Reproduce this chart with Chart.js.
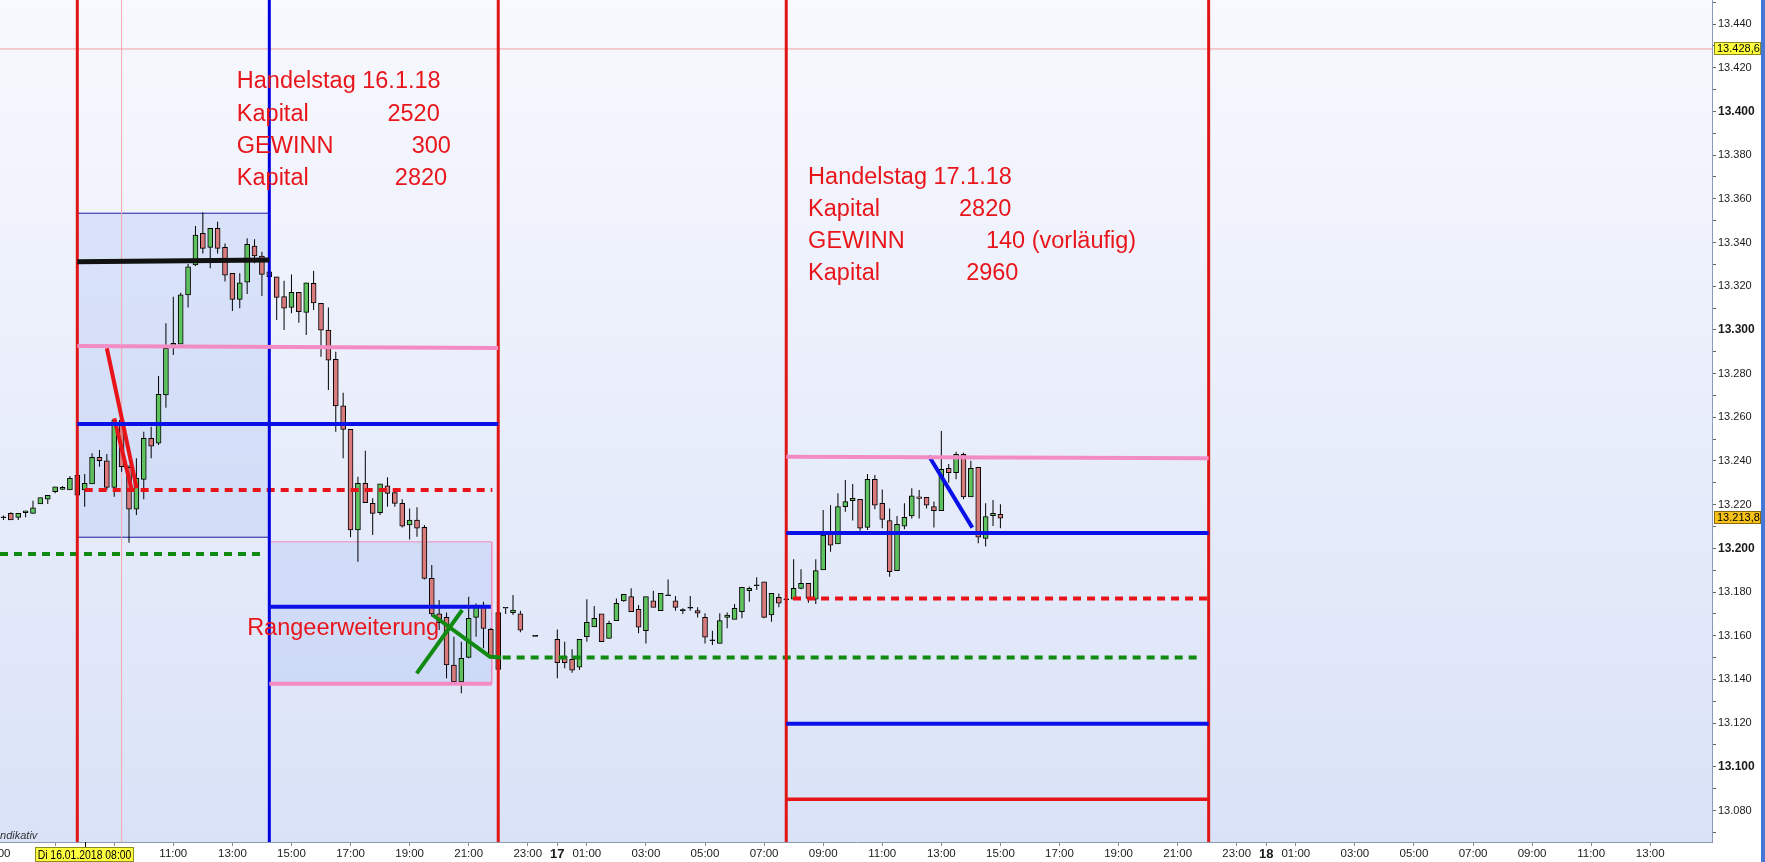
<!DOCTYPE html>
<html lang="de">
<head>
<meta charset="utf-8">
<title>DAX 15 Min - Handelstag 16.1.18 / 17.1.18</title>
<script src="https://cdn.jsdelivr.net/npm/chart.js@4.4.1/dist/chart.umd.min.js"></script>
<style>
  html, body { margin: 0; padding: 0; background: #fff; overflow: hidden; }
  canvas { display: block; }
</style>
</head>
<body>
<canvas id="myChart" width="1765" height="862"></canvas>
<script>
// 15-Minuten-Kerzen, Zeit in Stunden ab Di 16.01.2018 00:00
const times = [
  5.25, 5.5, 5.75, 6, 6.25, 6.5, 6.75, 7, 7.25, 7.5,
  7.75, 8, 8.25, 8.5, 8.75, 9, 9.25, 9.5, 9.75, 10,
  10.25, 10.5, 10.75, 11, 11.25, 11.5, 11.75, 12, 12.25, 12.5,
  12.75, 13, 13.25, 13.5, 13.75, 14, 14.25, 14.5, 14.75, 15,
  15.25, 15.5, 15.75, 16, 16.25, 16.5, 16.75, 17, 17.25, 17.5,
  17.75, 18, 18.25, 18.5, 18.75, 19, 19.25, 19.5, 19.75, 20,
  20.25, 20.5, 20.75, 21, 21.25, 21.5, 21.75, 22, 22.25, 22.5,
  22.75, 23.25, 24, 24.25, 24.5, 24.75, 25, 25.25, 25.5, 25.75,
  26, 26.25, 26.5, 26.75, 27, 27.25, 27.5, 27.75, 28, 28.25,
  28.5, 28.75, 29, 29.25, 29.5, 29.75, 30, 30.25, 30.5, 30.75,
  31, 31.25, 31.5, 31.75, 32, 32.25, 32.5, 32.75, 33, 33.25,
  33.5, 33.75, 34, 34.25, 34.5, 34.75, 35, 35.25, 35.5, 35.75,
  36, 36.25, 36.5, 36.75, 37, 37.25, 37.5, 37.75, 38, 38.25,
  38.5, 38.75, 39
];
const opens = [
  13214, 13216, 13214.2, 13216.3, 13216, 13220.3, 13222.5, 13225.9, 13227.0, 13226.7,
  13233.4, 13226.7, 13229.5, 13241.7, 13240.1, 13227.9, 13258.7, 13237.1, 13217.9, 13231.6,
  13250.4, 13248.1, 13270.2, 13292.9, 13293.5, 13316.0, 13329.7, 13344.2, 13337.8, 13346.5,
  13337.8, 13325.9, 13314.0, 13321.8, 13338.4, 13333.8, 13326.6, 13324.3, 13315.2, 13310.3,
  13317.2, 13308.0, 13321.3, 13312.2, 13299.9, 13286.5, 13265.2, 13254.5, 13208.4, 13229.8,
  13220.6, 13216.3, 13228.6, 13225.5, 13220.6, 13210.7, 13213.0, 13209.6, 13186.3, 13170.0,
  13168.4, 13146.6, 13139.0, 13150.1, 13168.4, 13173.0, 13162.9, 13170.6, 13172.6, 13170.6,
  13170.0, 13159.7, 13158.4, 13150.7, 13149.2, 13145.6, 13159.6, 13164.1, 13170.0, 13158.8,
  13166.9, 13176.0, 13177.9, 13172.1, 13162.3, 13176.0, 13171.5, 13178.3, 13176.0, 13171.5,
  13172.6, 13171.5, 13168.4, 13157.7, 13156.5, 13168.4, 13167.5, 13171.0, 13180.6, 13182.9,
  13184.7, 13169.5, 13177.6, 13176.4, 13176.7, 13181.7, 13184.0, 13176.7, 13190.1, 13206.6,
  13202.0, 13219.1, 13221.8, 13222.5, 13209.6, 13231.6, 13220.6, 13212.7, 13189.8, 13210.2,
  13214.8, 13223.6, 13223.4, 13219.1, 13217.2, 13236.6, 13234.6, 13243.0, 13223.6, 13237.1,
  13204.6, 13215.0, 13215.6
];
const highs = [
  13215, 13216.5, 13216, 13217.2, 13221.8, 13223.2, 13224.3, 13228.2, 13228.5, 13233.1,
  13234, 13234.0, 13243.5, 13245.0, 13243.2, 13259.0, 13259.5, 13238.0, 13241.2, 13253.4,
  13255.7, 13278.9, 13303.0, 13315.2, 13317.0, 13330.2, 13347.5, 13353.8, 13346.5, 13349.5,
  13339.6, 13325.9, 13325.9, 13341.9, 13341.5, 13335.8, 13327.0, 13324.3, 13322.5, 13325.4,
  13317.2, 13321.6, 13327.1, 13312.2, 13310.3, 13290.0, 13271.2, 13254.5, 13232.8, 13244.7,
  13222.9, 13229.5, 13232.5, 13226.7, 13222.5, 13218.3, 13218.8, 13210.7, 13192.4, 13176.4,
  13170.6, 13159.6, 13157.3, 13177.9, 13174.8, 13175.6, 13163.5, 13171.0, 13172.6, 13178.7,
  13171.5, 13159.8, 13162.9, 13157.3, 13153.8, 13158.4, 13176.7, 13173.6, 13170.0, 13166.9,
  13177.1, 13179.0, 13181.7, 13174.1, 13177.9, 13180.6, 13179.4, 13185.8, 13178.2, 13172.6,
  13178.2, 13173.0, 13170.3, 13162.3, 13170.3, 13170.6, 13174.5, 13182.2, 13182.5, 13186.8,
  13184.7, 13179.4, 13179.4, 13176.6, 13195.0, 13190.4, 13184.0, 13195.0, 13217.6, 13219.8,
  13225.2, 13231.3, 13229.5, 13222.5, 13234.0, 13233.6, 13227.0, 13218.3, 13214.8, 13220.6,
  13227.5, 13226.7, 13223.4, 13221.4, 13253.7, 13238.6, 13244.2, 13243.8, 13240.1, 13237.1,
  13220.6, 13222.1, 13220.2
];
const lows = [
  13213, 13213, 13213, 13214.2, 13216, 13220.3, 13220.3, 13225.2, 13226.8, 13226.7,
  13224, 13219.0, 13229.5, 13237.4, 13226.7, 13223.6, 13235.1, 13202.6, 13215.3, 13222.5,
  13241.2, 13247.3, 13264.4, 13288.5, 13293.5, 13310.3, 13329.2, 13335.0, 13328.2, 13335.0,
  13322.1, 13308.6, 13309.9, 13316.4, 13330.5, 13315.5, 13322.0, 13304.5, 13299.9, 13307.6,
  13303.3, 13297.7, 13309.1, 13287.7, 13272.5, 13253.4, 13241.2, 13205.1, 13193.9, 13220.9,
  13206.1, 13215.3, 13219.0, 13219.0, 13209.6, 13204.1, 13205.3, 13185.8, 13168.8, 13162.6,
  13140.5, 13139.0, 13133.7, 13149.7, 13159.6, 13154.3, 13150.0, 13144.0, 13170.0, 13169.5,
  13161.6, 13159.6, 13140.5, 13145.1, 13143.1, 13144.3, 13157.3, 13164.1, 13157.3, 13158.8,
  13166.9, 13175.6, 13171.0, 13161.1, 13156.5, 13173.0, 13171.5, 13178.3, 13171.5, 13170.0,
  13171.5, 13168.4, 13156.5, 13155.8, 13156.5, 13163.4, 13167.5, 13168.0, 13175.6, 13181.0,
  13168.0, 13166.4, 13173.0, 13176.2, 13176.7, 13181.3, 13175.1, 13174.5, 13190.1, 13198.5,
  13202.0, 13216.8, 13212.7, 13208.1, 13208.4, 13217.9, 13209.2, 13187.0, 13189.8, 13208.7,
  13213.7, 13213.7, 13218.3, 13209.6, 13217.2, 13230.0, 13231.6, 13222.5, 13223.6, 13202.3,
  13200.8, 13210.2, 13209.2
];
const closes = [
  13214, 13213, 13216, 13217.2, 13218.6, 13223.2, 13224.3, 13228.2, 13227.9, 13232.1,
  13224.3, 13229.8, 13241.7, 13240.1, 13227.9, 13258.7, 13237.4, 13217.9, 13232.1, 13250.4,
  13246.8, 13270.5, 13291.6, 13293.9, 13316.0, 13328.9, 13343.4, 13337.3, 13346.5, 13337.3,
  13325.1, 13314.0, 13321.6, 13339.2, 13333.9, 13325.4, 13324.4, 13314.9, 13309.9, 13317.2,
  13308.3, 13321.6, 13312.4, 13299.9, 13286.2, 13265.2, 13254.5, 13208.4, 13229.8, 13220.9,
  13216.0, 13229.5, 13225.2, 13220.6, 13210.2, 13213.0, 13209.2, 13186.3, 13170.0, 13166.0,
  13146.6, 13139.0, 13149.7, 13168.0, 13173.0, 13163.4, 13150.4, 13144.6, 13172.6, 13171.8,
  13162.6, 13159.7, 13147.7, 13147.7, 13144.3, 13158.4, 13166.2, 13168.0, 13157.3, 13165.7,
  13174.9, 13179.0, 13171.0, 13163.9, 13177.9, 13173.0, 13179.4, 13178.3, 13173.0, 13171.5,
  13172.6, 13170.3, 13159.3, 13157.7, 13166.9, 13169.5, 13172.6, 13182.2, 13181.7, 13182.9,
  13168.4, 13179.4, 13174.9, 13176.4, 13181.7, 13184.0, 13177.1, 13189.8, 13206.1, 13201.5,
  13219.1, 13221.4, 13222.9, 13209.2, 13231.6, 13219.8, 13213.3, 13189.3, 13211.0, 13214.2,
  13224.1, 13222.9, 13219.8, 13217.2, 13236.2, 13234.6, 13243.0, 13223.6, 13236.6, 13205.1,
  13214.5, 13216.0, 13213.8
];

// Achsen
const xMin = 5.133, xMax = 63.09;
const yMin = 13065.6, yMax = 13451.0;
const xTickValues = [5, 7, 9, 11, 13, 15, 17, 19, 21, 23, 24, 25, 27, 29, 31, 33, 35, 37, 39, 41, 43, 45, 47, 48, 49, 51, 53, 55, 57, 59, 61];
const yTickValues = [];
for (let v = 13070; v <= 13450; v += 10) yTickValues.push(v);

// Markierungen (Zeit, Kurs)
const redVerticals = [7.75, 22.0, 31.75, 46.05];
const blueVerticals = [14.25];
const blackLine16 = [[7.75, 13331.2], [14.25, 13332.0]];
const pinkLine16 = [[7.75, 13292.6], [22.0, 13291.7]];
const blueLine16 = [[7.75, 13256.9], [22.0, 13256.9]];
const redDash16 = [[8.0, 13226.7], [21.8, 13226.7]];
const greenDash16 = [[5.133, 13197.4], [14.0, 13197.4]];
const blueLine16b = [[14.25, 13173.3], [21.75, 13173.3]];
const pinkLine16b = [[14.25, 13138.0], [21.78, 13138.0]];
const greenDash17 = [[22.15, 13150.0], [45.75, 13150.0]];
const redStroke16a = [[8.75, 13291.6], [9.76, 13227.5]];
const redStroke16b = [[9.0, 13259.5], [9.58, 13227.5]];
const greenCrossA = [[19.24, 13142.8], [20.78, 13171.8]];
const greenCrossB = [[19.78, 13169.5], [21.72, 13150.4], [22.1, 13150.0]];
const pinkLine17 = [[31.75, 13241.9], [46.05, 13241.2]];
const blueLine17 = [[31.75, 13207.0], [46.05, 13207.0]];
const redDash17 = [[31.98, 13177.1], [46.05, 13177.1]];
const blueLine17b = [[31.75, 13119.7], [46.05, 13119.7]];
const redLine17 = [[31.75, 13085.2], [46.05, 13085.2]];
const blueStroke17 = [[36.58, 13242.3], [38.05, 13209.5]];
const rangeBox16 = [7.75, 14.25, 13205.1, 13353.4];
const rangeBox16b = [14.25, 21.78, 13138.0, 13203.0];

const crossTime = 9.25;
const crossPrice = 13428.6;
const lastPrice = 13213.8;
const crossLabel = 'Di 16.01.2018 08:00';

const notes16 = ['Handelstag 16.1.18', 'Kapital', 'GEWINN', 'Kapital'];
const values16 = ['', '2520', '300', '2820'];
const notes17 = ['Handelstag 17.1.18', 'Kapital', 'GEWINN', 'Kapital'];
const values17 = ['', '2820', '140 (vorläufig)', '2960'];
const rangeNote = 'Rangeerweiterung';

function fmtDe(v, dec) {
  const s = v.toFixed(dec);
  const parts = s.split('.');
  const int = parts[0].replace(/\B(?=(\d{3})+(?!\d))/g, '.');
  return parts.length > 1 ? int + ',' + parts[1] : int;
}

function lineSet(points, color, width, dash, order) {
  return {
    type: 'line',
    data: points.map(p => ({ x: p[0], y: p[1] })),
    borderColor: color,
    borderWidth: width,
    borderDash: dash || [],
    borderCapStyle: 'butt',
    pointRadius: 0,
    fill: false,
    tension: 0,
    order: order || 1
  };
}
function boxFill(b, color) {
  return {
    type: 'line',
    data: [{ x: b[0], y: b[3] }, { x: b[1], y: b[3] }],
    fill: { value: b[2] },
    backgroundColor: color,
    borderWidth: 0,
    pointRadius: 0,
    order: 9
  };
}
function boxEdge(b, color) {
  return lineSet([[b[0], b[2]], [b[0], b[3]], [b[1], b[3]], [b[1], b[2]], [b[0], b[2]]], color, 1, null, 8);
}

const upColor = '#5ec35e';
const downColor = '#d97a7c';
const bodyColors = times.map((t, i) => closes[i] > opens[i] ? upColor : (closes[i] < opens[i] ? downColor : '#000'));

const RED = '#e8141a', BLUE = '#0a10e8', PINK = '#f48cc4', GREEN = '#108a10';
const datasets = [
  boxFill(rangeBox16, 'rgba(165,190,242,0.30)'),
  boxFill(rangeBox16b, 'rgba(165,190,242,0.30)'),
  boxEdge(rangeBox16, '#1e1e9c'),
  boxEdge(rangeBox16b, '#f08cc0'),
  lineSet([[xMin, crossPrice], [xMax, crossPrice]], '#f2a0a0', 1, null, 7),
  lineSet([[crossTime, yMin], [crossTime, yMax]], '#f2a8a8', 1, null, 7),
  {
    type: 'bar',
    data: times.map((t, i) => ({ x: t, y: [lows[i], highs[i]] })),
    backgroundColor: '#000',
    borderWidth: 0,
    barThickness: 1,
    inflateAmount: 0,
    grouped: false,
    order: 5
  },
  {
    type: 'bar',
    data: times.map((t, i) => ({ x: t, y: [opens[i], closes[i]] })),
    backgroundColor: bodyColors,
    borderColor: '#000',
    borderWidth: 1,
    borderSkipped: false,
    barThickness: 5,
    minBarLength: 1,
    grouped: false,
    order: 4
  },
  lineSet(greenDash16, GREEN, 4, [8, 6], 2),
  lineSet(greenDash17, GREEN, 4, [8, 6], 2),
  lineSet(redDash16, RED, 4, [8, 6], 2),
  lineSet(redDash17, RED, 4, [8, 6], 2),
  lineSet(pinkLine16, PINK, 4),
  lineSet(pinkLine16b, PINK, 4),
  lineSet(pinkLine17, PINK, 4),
  lineSet(blueLine16, BLUE, 4),
  lineSet(blueLine16b, BLUE, 4),
  lineSet(blueLine17, BLUE, 4),
  lineSet(blueLine17b, BLUE, 4),
  lineSet(redLine17, RED, 3.5),
  lineSet(blackLine16, '#111', 5),
  lineSet(redStroke16a, RED, 4),
  lineSet(redStroke16b, RED, 4),
  lineSet(greenCrossA, GREEN, 4),
  lineSet(greenCrossB, GREEN, 4),
  lineSet(blueStroke17, BLUE, 4)
];
redVerticals.forEach(t => datasets.push(lineSet([[t, yMin], [t, yMax]], '#e01515', 3, null, 1)));
blueVerticals.forEach(t => datasets.push(lineSet([[t, yMin], [t, yMax]], '#0000dd', 3, null, 1)));

const FONT = '"Liberation Sans", Arial, sans-serif';

// Hintergrund
const bgPlugin = {
  id: 'bg',
  beforeDraw(chart) {
    const { ctx, chartArea: a, width, height } = chart;
    ctx.save();
    ctx.fillStyle = '#fff';
    ctx.fillRect(0, 0, width, height);
    const g = ctx.createLinearGradient(0, a.top, 0, a.bottom);
    g.addColorStop(0, '#f8f9fe');
    g.addColorStop(1, '#d9e2f7');
    ctx.fillStyle = g;
    ctx.fillRect(a.left, a.top, a.right - a.left, a.bottom - a.top);
    ctx.fillStyle = '#4677d4';
    ctx.fillRect(width - 4, 0, 4, height);
    ctx.fillStyle = '#333';
    ctx.font = 'italic 11px ' + FONT;
    ctx.textBaseline = 'alphabetic';
    ctx.fillText('Indikativ', -3, a.bottom - 3);
    ctx.restore();
  }
};

// Texte im Chart
const notePlugin = {
  id: 'notes',
  afterDatasetsDraw(chart) {
    const { ctx } = chart;
    const x = chart.scales.x, y = chart.scales.y;
    ctx.save();
    ctx.fillStyle = '#e8161b';
    ctx.font = '23.5px ' + FONT;
    ctx.textBaseline = 'alphabetic';
    const base16 = [13410.6, 13395.7, 13381.1, 13366.5];
    const val16 = [0, 18.25, 19.07, 18.5];
    notes16.forEach((s, i) => {
      ctx.fillText(s, x.getPixelForValue(13.15), y.getPixelForValue(base16[i]));
      if (values16[i]) ctx.fillText(values16[i], x.getPixelForValue(val16[i]), y.getPixelForValue(base16[i]));
    });
    const base17 = [13366.8, 13352.1, 13337.5, 13322.9];
    const val17 = [0, 37.6, 38.51, 37.84];
    notes17.forEach((s, i) => {
      ctx.fillText(s, x.getPixelForValue(32.49), y.getPixelForValue(base17[i]));
      if (values17[i]) ctx.fillText(values17[i], x.getPixelForValue(val17[i]), y.getPixelForValue(base17[i]));
    });
    ctx.fillText(rangeNote, x.getPixelForValue(13.5), y.getPixelForValue(13160.3));
    ctx.restore();
  },
  afterDraw(chart) {
    const { ctx, chartArea: a } = chart;
    const x = chart.scales.x, y = chart.scales.y;
    ctx.save();
    // Kursmarken an der Preisachse
    const tag = (val, fill, stroke) => {
      const py = Math.round(y.getPixelForValue(val));
      ctx.fillStyle = fill;
      ctx.fillRect(a.right + 2, py - 7, 47, 13);
      ctx.strokeStyle = stroke;
      ctx.lineWidth = 1;
      ctx.strokeRect(a.right + 2.5, py - 6.5, 46, 12);
      ctx.fillStyle = '#000';
      ctx.font = '11px ' + FONT;
      ctx.textBaseline = 'middle';
      ctx.textAlign = 'left';
      ctx.fillText(fmtDe(val, 1), a.right + 5, py);
    };
    tag(crossPrice, '#ffff40', '#8a8a20');
    tag(lastPrice, '#f5c21c', '#8a6a10');
    // Zeitmarke
    const px = x.getPixelForValue(8);
    const bx = Math.round(px - 49.5);
    ctx.fillStyle = '#ffff40';
    ctx.fillRect(bx, a.bottom + 5, 99, 15);
    ctx.strokeStyle = '#8a8a20';
    ctx.strokeRect(bx + 0.5, a.bottom + 5.5, 98, 14);
    ctx.fillStyle = '#000';
    ctx.save();
    ctx.translate(bx + 49.5, a.bottom + 13);
    ctx.scale(0.8, 1);
    ctx.font = '13px ' + FONT;
    ctx.textAlign = 'center';
    ctx.textBaseline = 'middle';
    ctx.fillText(crossLabel, 0, 0);
    ctx.restore();
    ctx.fillRect(Math.round(px), a.bottom, 1, 5);
    ctx.restore();
  }
};

new Chart(document.getElementById('myChart'), {
  type: 'bar',
  data: { datasets: datasets },
  options: {
    responsive: false,
    animation: false,
    events: [],
    layout: { padding: 0, autoPadding: false },
    plugins: { legend: { display: false }, tooltip: { enabled: false } },
    scales: {
      x: {
        type: 'linear',
        min: xMin,
        max: xMax,
        offset: false,
        afterBuildTicks: s => { s.ticks = xTickValues.map(v => ({ value: v })); },
        afterFit: s => { s.height = 20; s.paddingLeft = 0; s.paddingRight = 0; },
        ticks: {
          autoSkip: false,
          maxRotation: 0,
          padding: 1,
          color: '#1a1a1a',
          font: c => (c.tick && c.tick.value % 24 === 0) ? { family: FONT, size: 13, weight: 'bold' } : { family: FONT, size: 11.5 },
          callback: v => v % 24 === 0 ? String(16 + v / 24) : String(v % 24).padStart(2, '0') + ':00'
        },
        grid: { drawOnChartArea: false, offset: false, tickLength: 4, color: '#8a8a8a' },
        border: { color: '#8c9bb5' }
      },
      y: {
        position: 'right',
        min: yMin,
        max: yMax,
        afterBuildTicks: s => { s.ticks = yTickValues.map(v => ({ value: v })); },
        afterFit: s => { s.width = 53; s.paddingTop = 0; s.paddingBottom = 0; },
        ticks: {
          autoSkip: false,
          padding: 2,
          color: '#1a1a1a',
          font: c => (c.tick && c.tick.value % 100 === 0) ? { family: FONT, size: 12, weight: 'bold' } : { family: FONT, size: 11 },
          callback: v => v % 20 === 0 ? fmtDe(v, 0) : ''
        },
        grid: { drawOnChartArea: false, tickLength: 4, color: '#666' },
        border: { color: '#8c9bb5' }
      }
    }
  },
  plugins: [bgPlugin, notePlugin]
});
</script>
</body>
</html>
